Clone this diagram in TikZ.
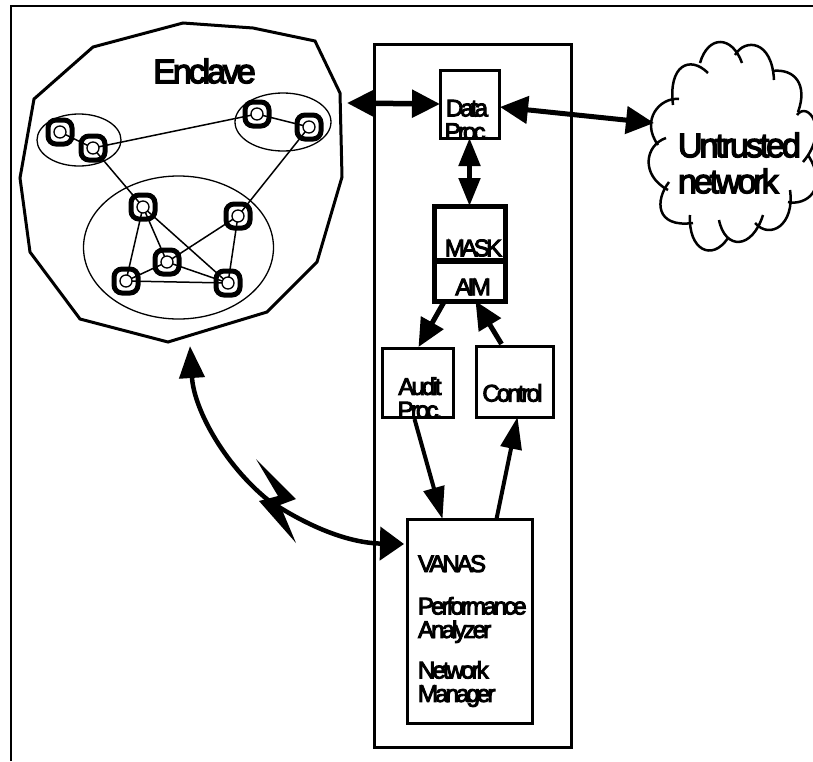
\documentclass[tikz,border=0pt]{standalone}
\usepackage{fontspec}
\setmainfont{Liberation Sans}
\newfontface\faceS[LetterSpace=-12,FakeBold=4]{Liberation Sans}
\newfontface\faceM[LetterSpace=-15,FakeBold=4]{Liberation Sans}
\newfontface\faceB[LetterSpace=-9,FakeBold=4]{Liberation Sans}
\usetikzlibrary{arrows.meta,shapes.geometric}
\tikzset{
  x=1pt,y=-1pt,
  boxa/.style={draw,rectangle,line width=3pt,inner sep=0pt,outer sep=0pt},
  host/.style={draw,rectangle,rounded corners=8pt,line width=5pt,minimum width=24pt,minimum height=24pt,inner sep=0pt},
  port/.style={draw,circle,fill=white,line width=1.3pt,minimum size=12pt,inner sep=0pt},
  grp/.style={draw,ellipse,line width=1.3pt,inner sep=0pt},
  link/.style={line width=1.5pt},
  txs/.style={inner sep=0pt,outer sep=0pt,align=left,font=\faceS\fontsize{24}{23.5}\selectfont},
  txm/.style={inner sep=0pt,outer sep=0pt,font=\faceM\fontsize{24}{24}\selectfont},
  txb/.style={inner sep=0pt,outer sep=0pt,align=left,font=\faceB\fontsize{34}{36}\selectfont},
  bigtip/.style={{Triangle[length=28pt,width=27pt]}-{Triangle[length=28pt,width=27pt]}},
  midtip/.style={-{Triangle[length=28pt,width=25pt]}},
  thintip/.style={-{Triangle[length=32pt,width=21pt]}},
  cloudl/.style={line width=2.5pt},
}
\begin{document}
\begin{tikzpicture}
\useasboundingbox (0,0) rectangle (813,761);
% frame
\coordinate (ftr) at (813,6);
\coordinate (fbl) at (11,761);
\coordinate (ftl) at (11,6);
\draw[line width=2.2pt] (fbl) -- (ftl) -- (ftr);
% enclave outline
\draw[line width=3pt,line join=miter] (183,23) -- (253,28) -- (315,41) -- (340,93) -- (342,177) -- (317,262) -- (267,312) -- (168,342) -- (80,319) -- (30,252) -- (20,178) -- (34,99) -- (93,47) -- cycle;
\node[txb] (enclave) at (204.5,71) {Enclave};
\coordinate (enclaveE) at (347,103);
\coordinate (enclaveS) at (190,346);
% groups
\node[grp,minimum width=84pt,minimum height=52pt] (g1) at (79,140) {};
\node[grp,minimum width=96pt,minimum height=58pt] (g2) at (283,122) {};
\node[grp,minimum width=190pt,minimum height=143pt] (g3) at (178.5,247.5) {};
% hosts
\foreach \n/\x/\y in {1/60/132,2/93/148,3/257/114,4/309/127,5/143/207,6/238/216,7/167/262,8/126/281,9/228/283}
  \node[host] (n\n) at (\x,\y) {};
\foreach \a/\b in {1/2,2/3,3/4,2/5,4/6,5/8,5/7,5/9,6/7,6/9,7/8,7/9,8/9}
  \draw[link] (n\a.center) -- (n\b.center);
\foreach \n in {1,...,9}
  \node[port] (p\n) at (n\n.center) {};
% central column
\node[boxa,minimum width=197pt,minimum height=703pt] (column) at (472.5,395.5) {};
\node[boxa,line width=3pt,minimum width=59pt,minimum height=68pt] (data) at (469.5,104) {};
\node[boxa,line width=5pt,minimum width=71pt,minimum height=95pt] (mask) at (469.5,253.5) {};
\draw[line width=6pt] (mask.west |- 0,261) coordinate (maskl) -- (mask.east |- 0,261) coordinate (maskr);
\node[boxa,minimum width=71pt,minimum height=69pt] (audit) at (417.5,382.5) {};
\node[boxa,minimum width=77pt,minimum height=71pt] (control) at (514.5,381.5) {};
\node[boxa,minimum width=125pt,minimum height=204pt] (vanas) at (469.5,621) {};
% clipped labels
\begin{scope}
  \clip (data.south west) rectangle (data.north east);
  \node[txs,align=center] (datatxt) at (467,120) {Data\\Proc.};
\end{scope}
\begin{scope}
  \clip (audit.south west) rectangle (audit.north east);
  \node[txs,align=center] (audittxt) at (420,398) {Audit\\Proc.};
\end{scope}
\node[txm] (masktxt) at (473.5,248) {MASK};
\node[txm] (aimtxt) at (473,287) {AIM};
\node[txs] (controltxt) at (512.5,393) {Control};
\node[txs,anchor=base west] (vanastxt) at (418,572) {VANAS};
\node[txs,anchor=west] (perftxt) at (418,620) {Performance\\Analyzer};
\node[txs,anchor=west] (mgrtxt) at (418,684) {Network\\Manager};
% cloud
\begin{scope}
\clip (0,0) rectangle (813,761);
\draw[cloudl] (708,73) .. controls (690,55) and (668,65) .. (673,105);
\draw[cloudl] (679,99) .. controls (660,97) and (640,120) .. (658,145);
\draw[cloudl] (666,138) .. controls (645,145) and (640,175) .. (668,190);
\draw[cloudl] (669,182) .. controls (655,200) and (655,228) .. (693,223);
\draw[cloudl] (690,215) .. controls (688,250) and (712,262) .. (728,238);
\draw[cloudl] (719,220) .. controls (725,250) and (752,250) .. (763,215);
\draw[cloudl] (755,223) .. controls (770,240) and (795,225) .. (790,190);
\draw[cloudl] (788,202) .. controls (805,206) and (830,190) .. (808,155);
\draw[cloudl] (797,115) .. controls (808,100) and (830,130) .. (803,162);
\draw[cloudl] (798,112) .. controls (808,85) and (795,68) .. (772,71);
\draw[cloudl] (774,80) .. controls (772,40) and (745,38) .. (735,55);
\draw[cloudl] (742,63) .. controls (732,35) and (708,35) .. (700,63);
\end{scope}
\coordinate (cloudW) at (654,123);
\node[txb,anchor=west] (cloudtxt) at (678,163) {Untrusted\\network};
% connectors
\draw[line width=5.5pt,bigtip] (enclaveE) -- (data.west);
\draw[line width=5pt,bigtip] ([xshift=1pt,yshift=-3pt]data.east) -- (cloudW);
\draw[line width=5pt,{Triangle[length=28pt,width=21pt]}-{Triangle[length=28pt,width=21pt]}] (data.south) -- (mask.north);
\draw[line width=5pt,midtip] ([xshift=10pt,yshift=-1pt]mask.south west) -- ([xshift=1pt,yshift=1pt]audit.north);
\draw[line width=5pt,midtip] ([xshift=-13pt,yshift=2pt]control.north) -- ([xshift=6pt]mask.south);
\draw[line width=4pt,thintip] ([xshift=-3pt,yshift=-2pt]audit.south) -- ([xshift=-27pt]vanas.north);
\draw[line width=4pt,thintip] ([xshift=27pt]vanas.north) -- ([xshift=3pt]control.south);
% wireless link
\draw[line width=4.5pt,{Triangle[length=32pt,width=25pt]}-{Triangle[length=24pt,width=33pt]}] (enclaveS) .. controls (194,410) and (225,465) .. (268,500) .. controls (310,528) and (350,543) .. ([xshift=-3pt,yshift=77pt]vanas.west);
\coordinate (bolt) at (270,500);
\fill ([shift={(-14,-41)}]bolt) -- ([shift={(26,-1)}]bolt) -- ([shift={(10,5)}]bolt) -- ([shift={(26,43)}]bolt) -- ([shift={(-11,1)}]bolt) -- ([shift={(8,-4)}]bolt) -- cycle;
\end{tikzpicture}
\end{document}
